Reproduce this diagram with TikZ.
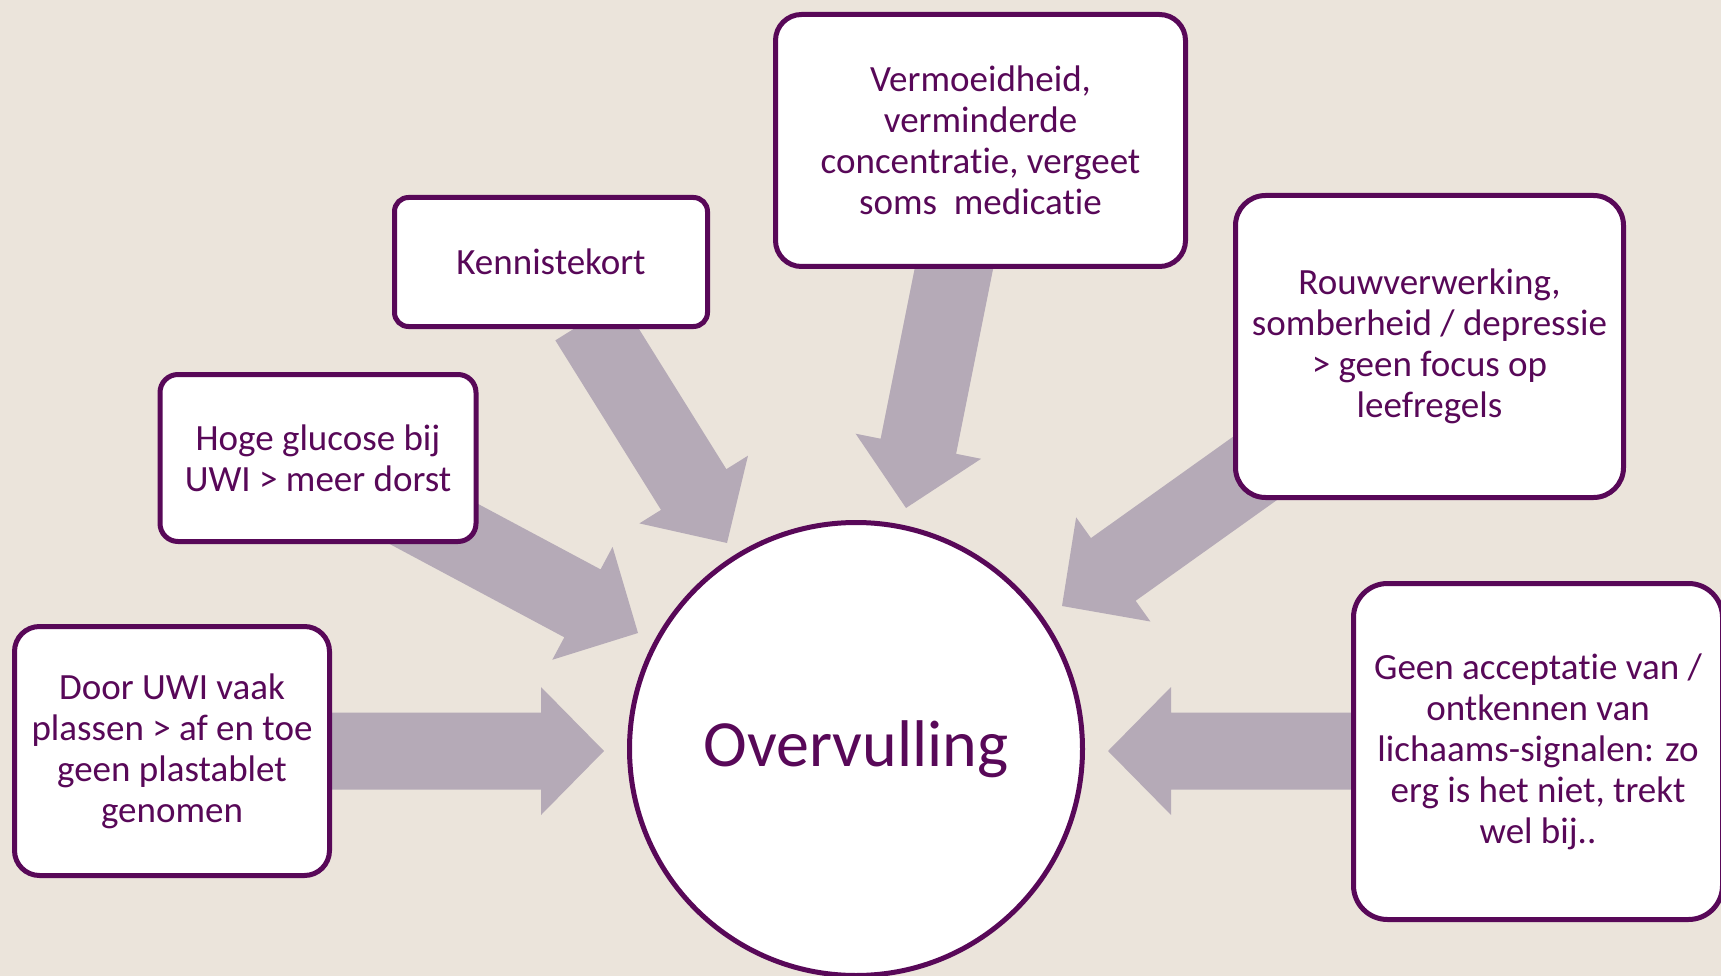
\documentclass[tikz,border=0pt]{standalone}
\usepackage{fontspec}
\setmainfont{Carlito}[Ligatures={NoCommon}]
\usetikzlibrary{calc}
\definecolor{bgcol}{RGB}{235,228,219}
\definecolor{arrcol}{RGB}{181,170,183}
\definecolor{plum}{RGB}{88,8,88}
\newcommand\arrHL{63pt}
\newcommand\arrSW{38.5pt}
\newcommand\arrHW{64pt}
\newcommand\blockarrow[3]{%
  \coordinate (#1b) at ($(#3)!\arrHL!(#2)$);
  \fill[arrcol] ($(#2)!\arrSW!90:(#3)$) -- ($(#1b)!\arrSW!90:(#3)$) -- ($(#1b)!\arrHW!90:(#3)$) -- (#3)
    -- ($(#1b)!\arrHW!-90:(#3)$) -- ($(#1b)!\arrSW!-90:(#3)$) -- ($(#2)!\arrSW!-90:(#3)$) -- cycle;
}
\tikzset{
  box/.style={draw=plum, line width=5pt, fill=white, text=plum, align=center,
    font=\fontsize{37}{41}\selectfont, inner sep=0pt},
  bigc/.style={circle, draw=plum, line width=5pt, fill=white, text=plum,
    font=\fontsize{66}{70}\selectfont, inner sep=0pt}
}
\begin{document}
\begin{tikzpicture}[x=1pt,y=-1pt]
\useasboundingbox (0,0) rectangle (1721,976);
\fill[bgcol] (0,0) rectangle (1721,976);
% arrow tails and tips
\coordinate (tA) at (300,751);  \coordinate (pA) at (604,751);
\coordinate (tB) at (374,492);  \coordinate (pB) at (638,633);
\coordinate (tC) at (588,320);  \coordinate (pC) at (727,543);
\coordinate (tD) at (957,253);  \coordinate (pD) at (906,508);
\coordinate (tE) at (1306,432); \coordinate (pE) at (1062,606);
\coordinate (tF) at (1400,751); \coordinate (pF) at (1108,751);
\blockarrow{aA}{tA}{pA}
\blockarrow{aB}{tB}{pB}
\blockarrow{aC}{tC}{pC}
\blockarrow{aD}{tD}{pD}
\blockarrow{aE}{tE}{pE}
\blockarrow{aF}{tF}{pF}
% boxes
\node[box, minimum width=315pt, minimum height=249pt, rounded corners=25pt] (A) at (172,751)
  {Door UWI vaak\\plassen > af en toe\\geen plastablet\\genomen};
\node[box, minimum width=316pt, minimum height=167pt, rounded corners=18pt] (B) at (318,458)
  {Hoge glucose bij\\UWI > meer dorst};
\node[box, minimum width=313pt, minimum height=129pt, rounded corners=14pt] (C) at (551,262)
  {Kennistekort};
\node[box, minimum width=410pt, minimum height=252pt, rounded corners=26pt] (D) at (980.5,140.5)
  {Vermoeidheid,\\verminderde\\concentratie, vergeet\\soms\ \ medicatie};
\node[box, minimum width=388pt, minimum height=302pt, rounded corners=30pt] (E) at (1429.5,346.5)
  {Rouwverwerking,\\somberheid / depressie\\> geen focus op\\leefregels};
\node[box, minimum width=369pt, minimum height=336pt, rounded corners=34pt] (F) at (1538,751.5)
  {Geen acceptatie van /\\ontkennen van\\lichaams-signalen: zo\\erg is het niet, trekt\\wel bij..};
\node[bigc, minimum size=453pt] (O) at (856,749) {Overvulling};
\end{tikzpicture}
\end{document}
